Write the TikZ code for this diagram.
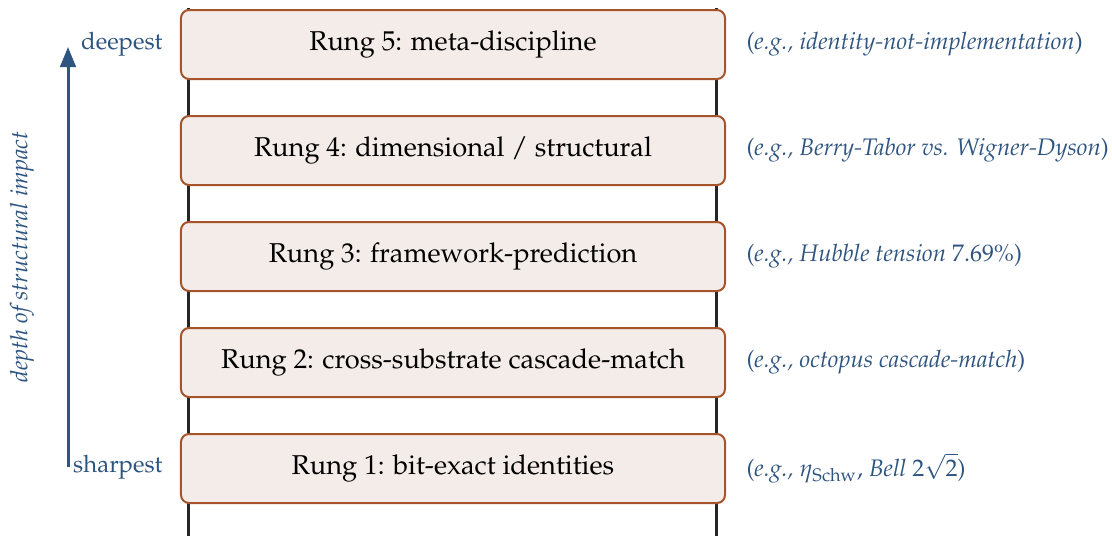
\documentclass[tikz,border=0pt]{standalone}
\usepackage[T1]{fontenc}
\usepackage{mathpazo}
\usetikzlibrary{arrows.meta}
\definecolor{rungfill}{RGB}{244,236,232}
\definecolor{rungdraw}{RGB}{166,84,44}
\definecolor{axisblue}{RGB}{46,84,128}
\newcommand{\rungfont}{\fontsize{10.9}{13}\selectfont}
\newcommand{\notefont}{\fontsize{9.57}{11.5}\selectfont}
\begin{document}
\begin{tikzpicture}[x=0.4pt,y=-0.4pt,
  rung/.style={draw=rungdraw, fill=rungfill, line width=0.8pt, rounded corners=3.2pt,
    minimum width=217.6pt, minimum height=27.6pt, inner sep=0pt, font=\rungfont},
  rail/.style={draw=black!85, line width=1.2pt},
  axisline/.style={draw=axisblue, line width=1.2pt, -{Triangle[length=8pt,width=6.2pt]}},
  axlabel/.style={text=axisblue, inner sep=0pt, font=\notefont},
  note/.style={text=axisblue, anchor=west, inner sep=0pt, font=\notefont}
]
\useasboundingbox (0,0) rectangle (1112,536);
% rails
\coordinate (lt) at (188,8);  \coordinate (lb) at (188,536);
\coordinate (rt) at (716,8);  \coordinate (rb) at (716,536);
\draw[rail] (lt) -- (lb);
\draw[rail] (rt) -- (rb);
% rungs
\node[rung] (r5) at (453,44.5) {Rung 5: meta-discipline};
\node[rung] (r4) at (453,150.5) {Rung 4: dimensional / structural};
\node[rung] (r3) at (453,256.5) {Rung 3: framework-prediction};
\node[rung] (r2) at (453,362.5) {Rung 2: cross-substrate cascade-match};
\node[rung] (r1) at (453,468.5) {Rung 1: bit-exact identities};
% axis
\coordinate (abot) at (68,467);
\coordinate (atop) at (68,47);
\draw[axisline] (abot) -- (atop);
\node[axlabel, anchor=east] (deep) at (163,44) {deepest};
\node[axlabel, anchor=east] (sharp) at (163,467) {sharpest};
\node[axlabel, rotate=90, font=\notefont\itshape] (depth) at (22,257) {depth of structural impact};
% notes
\node[note] (n5) at (746,44) {(\textit{e.g., identity-not-implementation})};
\node[note] (n4) at (746,150) {(\textit{e.g., Berry-Tabor vs. Wigner-Dyson})};
\node[note] (n3) at (746,256) {(\textit{e.g., Hubble tension} $7.69\%$)};
\node[note] (n2) at (746,362) {(\textit{e.g., octopus cascade-match})};
\node[note] (n1) at (746,468) {(\textit{e.g.,} $\eta_{\mathrm{Schw}}$, \textit{Bell} $2\sqrt{2}$)};
\end{tikzpicture}
\end{document}
